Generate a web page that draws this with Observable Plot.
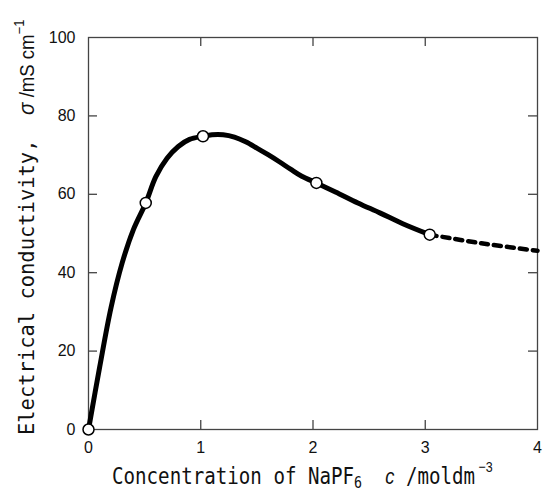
<!DOCTYPE html>
<html><head><meta charset="utf-8">
<script src="https://cdn.jsdelivr.net/npm/d3@7"></script>
<script src="https://cdn.jsdelivr.net/npm/@observablehq/plot@0.6"></script>
<style>body{margin:0;background:#fff}</style>
</head><body><div id="chart"></div>
<script>
// measured points
const pointC = [0, 0.51, 1.02, 2.03, 3.04];
const pointSigma = [0, 57.8, 74.8, 62.9, 49.7];
// fitted solid curve
const fitC = [0, 0.1, 0.2, 0.3, 0.4, 0.51, 0.6, 0.7, 0.8, 0.9, 1.02, 1.1, 1.2, 1.3, 1.4, 1.5, 1.6, 1.7, 1.8, 1.9, 2.03, 2.2, 2.4, 2.6, 2.8, 3.04];
const fitSigma = [0, 16, 31, 42.5, 51, 57.8, 64.5, 69.2, 72.2, 74.0, 74.8, 75.2, 75.2, 74.6, 73.4, 71.8, 70.1, 68.3, 66.4, 64.6, 62.9, 60.6, 57.8, 55.2, 52.5, 49.7];
// dashed extrapolation
const extC = [3.04, 3.5, 4.0];
const extSigma = [49.7, 47.5, 45.6];
// ticks
const xTicks = [0, 1, 2, 3, 4];
const yTicks = [0, 20, 40, 60, 80, 100];
const xInner = [1, 2, 3];
const yInner = [20, 40, 60, 80];

const W = 544, H = 491, mL = 88, mR = 7, mT = 37, mB = 62;
const pw = W - mL - mR, ph = H - mT - mB, tl = 9;

const fit = fitC.map((c, i) => ({c, s: fitSigma[i]}));
const ext = extC.map((c, i) => ({c, s: extSigma[i]}));
const pts = pointC.map((c, i) => ({c, s: pointSigma[i]}));

const svg = Plot.plot({
  width: W, height: H,
  marginLeft: mL, marginRight: mR, marginTop: mT, marginBottom: mB,
  style: {background: "#fff", color: "#111", fontFamily: "Liberation Sans, Arial, sans-serif"},
  x: {domain: [0, 4]},
  y: {domain: [0, 100]},
  marks: [
    Plot.frame({stroke: "#444", strokeWidth: 1.3}),
    Plot.tickX(xInner, {x: d => d, insetTop: ph - tl, stroke: "#444", strokeWidth: 1.3}),
    Plot.tickX(xInner, {x: d => d, insetBottom: ph - tl, stroke: "#444", strokeWidth: 1.3}),
    Plot.tickY(yInner, {y: d => d, insetRight: pw - tl, stroke: "#444", strokeWidth: 1.3}),
    Plot.tickY(yInner, {y: d => d, insetLeft: pw - tl, stroke: "#444", strokeWidth: 1.3}),
    Plot.axisX(xTicks, {anchor: "bottom", tickSize: 0, tickPadding: 12, label: null, fontSize: 16}),
    Plot.axisY(yTicks, {anchor: "left", tickSize: 0, tickPadding: 13, label: null, fontSize: 16}),
    Plot.line(fit, {x: "c", y: "s", curve: "catmull-rom", stroke: "#000", strokeWidth: 5, strokeLinecap: "round", strokeLinejoin: "round"}),
    Plot.line(ext, {x: "c", y: "s", curve: "catmull-rom", stroke: "#000", strokeWidth: 4.5, strokeDasharray: "7,6"}),
    Plot.dot(pts, {x: "c", y: "s", r: 5.5, fill: "#fff", stroke: "#000", strokeWidth: 1.5})
  ]
});
document.getElementById("chart").appendChild(svg);

const s = d3.select(svg);
const mono = "DejaVu Sans Mono, Liberation Mono, monospace";
const sans = "Liberation Sans, Arial, sans-serif";

// x label
const xl = s.append("text")
  .attr("transform", "translate(112,484) scale(0.833,1)")
  .attr("text-anchor", "start")
  .attr("fill", "#111").attr("font-family", mono).attr("font-size", 23);
xl.append("tspan").text("Concentration of NaPF");
xl.append("tspan").attr("font-size", 16).attr("dy", 4).text("6");
xl.append("tspan").attr("dy", -4).text("  ");
xl.append("tspan").attr("font-family", sans).attr("font-style", "italic").attr("font-size", 22).text("c");
xl.append("tspan").text(" /moldm");
xl.append("tspan").attr("font-family", sans).attr("font-size", 15).attr("dy", -12).text(" \u22123");

// y label
const yl = s.append("text")
  .attr("transform", "translate(34,435) rotate(-90) scale(0.93,1)")
  .attr("text-anchor", "start")
  .attr("fill", "#111").attr("font-family", mono).attr("font-size", 22);
yl.append("tspan").text("Electrical conductivity,  ");
yl.append("tspan").attr("font-family", sans).attr("font-style", "italic").attr("font-size", 22).text("\u03c3");
yl.append("tspan").attr("font-family", sans).attr("font-size", 20).text(" /mS cm");
yl.append("tspan").attr("font-family", sans).attr("font-size", 14).attr("dy", -10).text("\u22121");
</script>
</body></html>
